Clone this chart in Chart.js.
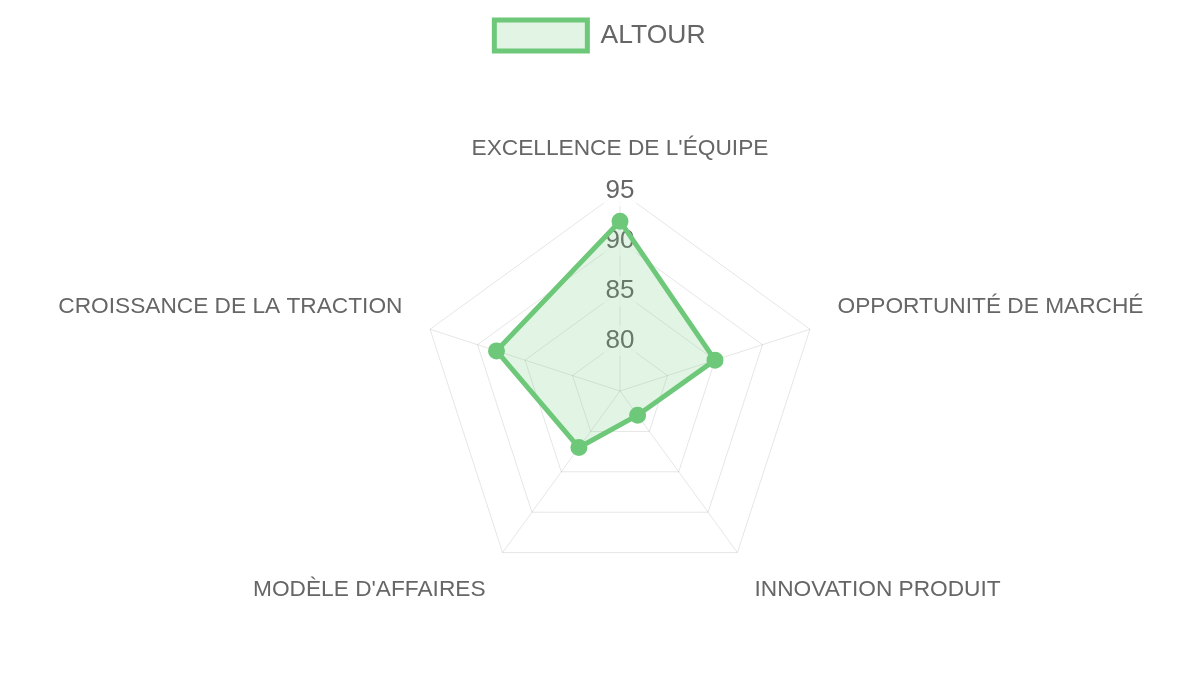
<!DOCTYPE html>
<html lang="fr">

<head>
    <meta charset="UTF-8">
    <meta name="viewport" content="width=device-width, initial-scale=1.0">
    <title>ALTOUR</title>
    <script src="https://cdn.jsdelivr.net/npm/chart.js"></script>
    <style>
        html, body { margin: 0; padding: 0; background: #fff; }
        #wrap { width: 1200px; height: 675px; }
    </style>
</head>

<body>
    <div id="wrap">
        <canvas id="radarChart"></canvas>
    </div>

    <script>
        var categories = [
            "EXCELLENCE DE L'ÉQUIPE",
            'OPPORTUNITÉ DE MARCHÉ',
            'INNOVATION PRODUIT',
            "MODÈLE D'AFFAIRES",
            'CROISSANCE DE LA TRACTION'
        ];
        var seriesName = 'ALTOUR';
        var altourScores = [92, 85, 78, 82, 88];
        var scaleMin = 75;
        var scaleMax = 95;
        var scaleStep = 5;

        var green = 'rgb(110, 200, 122)';

        // push the radar down a bit below the legend
        var legendGap = {
            id: 'legendGap',
            beforeInit: function (chart) {
                var fit = chart.legend.fit;
                chart.legend.fit = function () {
                    fit.bind(chart.legend)();
                    this.height += 54;
                };
            }
        };

        var radarChart = new Chart(document.getElementById('radarChart').getContext('2d'), {
            type: 'radar',
            data: {
                labels: categories,
                datasets: [{
                    label: seriesName,
                    data: altourScores,
                    borderColor: green,
                    backgroundColor: 'rgba(110, 200, 122, 0.2)',
                    pointBackgroundColor: green,
                    pointBorderColor: green,
                    borderWidth: 5,
                    pointRadius: 6,
                    fill: true
                }]
            },
            options: {
                responsive: true,
                maintainAspectRatio: false,
                animation: false,
                layout: {
                    padding: { top: 10, bottom: 47, left: 37, right: 37 }
                },
                plugins: {
                    legend: {
                        position: 'top',
                        labels: {
                            boxWidth: 93,
                            boxHeight: 31,
                            color: '#666',
                            font: { size: 26.5 }
                        }
                    }
                },
                scales: {
                    r: {
                        min: scaleMin,
                        max: scaleMax,
                        ticks: {
                            stepSize: scaleStep,
                            color: '#666',
                            font: { size: 26 }
                        },
                        pointLabels: {
                            color: '#666',
                            padding: 14,
                            font: { size: 22.7 }
                        }
                    }
                }
            },
            plugins: [legendGap]
        });
    </script>
</body>

</html>
